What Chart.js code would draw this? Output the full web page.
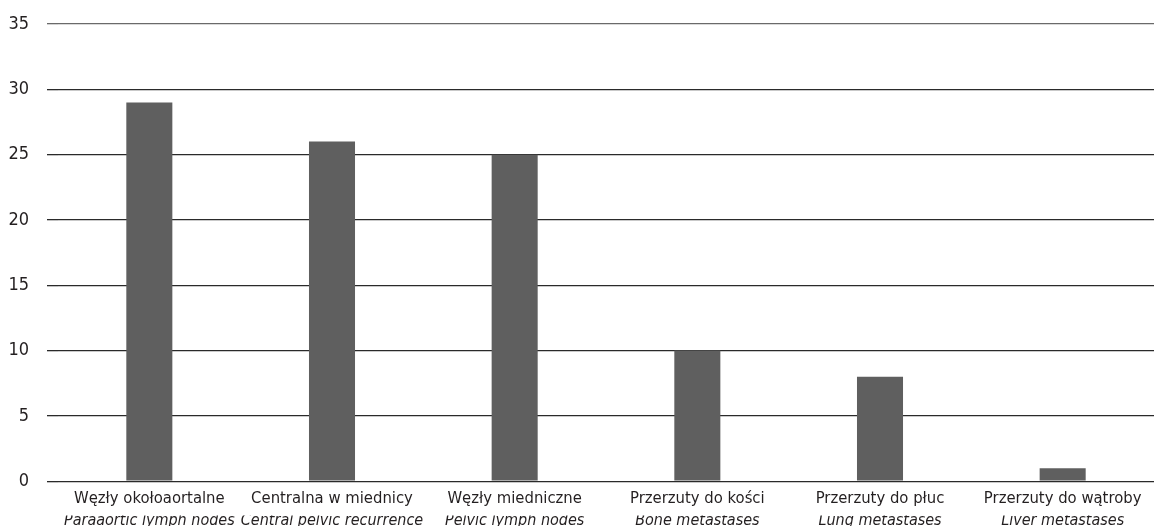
<!DOCTYPE html>
<html>
<head>
<meta charset="utf-8">
<script src="https://cdn.jsdelivr.net/npm/chart.js@4/dist/chart.umd.min.js"></script>
<style>
  html, body { margin: 0; padding: 0; background: #fff; overflow: hidden; }
  #wrap { position: relative; width: 1154px; height: 532px; }
</style>
</head>
<body>
<div id="wrap"><canvas id="chart"></canvas></div>
<script>
// Sites of recurrence (Polish label, English label) and counts
const categoriesPl = [
  'Węzły okołoaortalne',
  'Centralna w miednicy',
  'Węzły miedniczne',
  'Przerzuty do kości',
  'Przerzuty do płuc',
  'Przerzuty do wątroby'
];
const categoriesEn = [
  'Paraaortic lymph nodes',
  'Central pelvic recurrence',
  'Pelvic lymph nodes',
  'Bone metastases',
  'Lung metastases',
  'Liver metastases'
];
const values = [29, 26, 25, 10, 8, 1];
const yTicks = [0, 5, 10, 15, 20, 25, 30, 35];

const FONT = "'Liberation Sans Narrow', 'DejaVu Sans Condensed', sans-serif";
const TEXT = '#231f20';

new Chart(document.getElementById('chart'), {
  type: 'bar',
  data: {
    labels: categoriesPl,
    datasets: [{
      data: values,
      backgroundColor: '#5f5f5f',
      borderWidth: 0,
      barPercentage: 1,
      categoryPercentage: 0.252
    }]
  },
  options: {
    responsive: true,
    maintainAspectRatio: false,
    animation: false,
    layout: { padding: { top: 0, left: 0, right: 0, bottom: 6 } },
    plugins: { legend: { display: false }, tooltip: { enabled: false } },
    scales: {
      y: {
        min: 0,
        max: 35,
        afterFit: (s) => {
          s.width = 58;
          s.paddingTop = 24;
          s.paddingBottom = 0;
        },
        afterBuildTicks: (s) => { s.ticks = yTicks.map(v => ({ value: v })); },
        border: { display: false },
        grid: {
          color: (ctx) => ctx.tick && ctx.tick.value === 35 ? '#6a6a6a' : '#2a2a2a',
          lineWidth: 1.3,
          tickLength: 11,
          drawTicks: true
        },
        ticks: {
          color: TEXT,
          padding: 18,
          font: { family: FONT, size: 18 }
        }
      },
      x: {
        grid: { display: false, drawTicks: false },
        border: { display: false },
        ticks: {
          color: TEXT,
          padding: 7,
          maxRotation: 0,
          autoSkip: false,
          font: { family: FONT, size: 16.5, lineHeight: '20.4px' }
        }
      },
      x2: {
        type: 'category',
        position: 'bottom',
        labels: categoriesEn,
        offset: true,
        grid: { display: false, drawTicks: false },
        border: { display: false },
        ticks: {
          color: TEXT,
          padding: -5,
          maxRotation: 0,
          autoSkip: false,
          font: { family: FONT, size: 16, style: 'italic', lineHeight: '20.4px' }
        }
      }
    }
  }
});
</script>
</body>
</html>
